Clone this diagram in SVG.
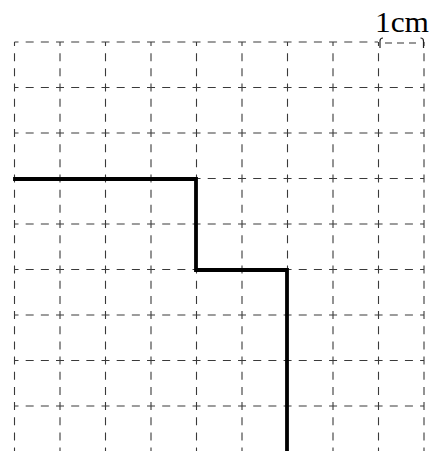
<svg xmlns="http://www.w3.org/2000/svg" width="432" height="451" viewBox="0 0 432 451">
<style>
.g{stroke:#3a3a3a;stroke-width:1.1;stroke-dasharray:8 7.17;stroke-dashoffset:4;fill:none}
.b{stroke:#000;stroke-width:3.8;fill:none;stroke-linejoin:miter;stroke-linecap:square}
.t{font-family:"Liberation Serif",serif;font-size:30px;fill:#000}
</style>
<rect width="432" height="451" fill="#fff"/>
<g id="grid">
<path class="g" d="M14.5,42V451M60,42V451M105.5,42V451M151,42V451M196.5,42V451M242,42V451M287.5,42V451M333,42V451M378.5,42V451M424,42V451"/>
<path class="g" d="M14.5,42H378M14.5,87.5H424M14.5,133H424M14.5,178.5H424M14.5,224H424M14.5,269.5H424M14.5,315H424M14.5,360.5H424M14.5,406H424"/>
</g>
<g id="scale">
<path d="M380,48V41q0,-3 3,-3" stroke="#222" stroke-width="1.2" fill="none"/>
<path d="M423.5,48V41q0,-3 -3,-3" stroke="#222" stroke-width="1.2" fill="none"/>
<path d="M385,43H392M397,43H404M409,43H416" stroke="#333" stroke-width="1.1" fill="none"/>
<text class="t" x="375" y="32" textLength="54" lengthAdjust="spacingAndGlyphs">1cm</text>
</g>
<g id="path">
<path class="b" d="M15,179H196V270H287V451"/>
</g>
</svg>
